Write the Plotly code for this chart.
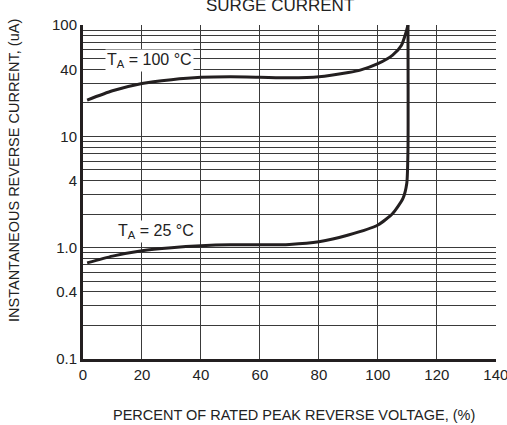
import plotly.graph_objects as go

# Data
x_100c = [1.4, 10, 20, 30, 40, 50, 60, 70, 80, 90, 94, 100, 105, 108, 109.6, 110.2]
y_100c = [21.2, 25.7, 29.9, 32.3, 33.9, 34.3, 34.0, 33.6, 34.3, 37.5, 39.4, 45.0, 53.7, 66.0, 87.0, 100.0]

x_25c = [1.4, 10, 20, 30, 40, 50, 60, 70, 80, 90, 100, 105, 108.5, 109.8, 110.2, 110.2]
y_25c = [0.73, 0.84, 0.94, 1.0, 1.04, 1.06, 1.06, 1.07, 1.13, 1.30, 1.60, 2.03, 2.77, 3.79, 7.5, 100.0]

x_ticks = [0, 20, 40, 60, 80, 100, 120, 140]
y_ticks = [0.1, 0.4, 1, 4, 10, 40, 100]
y_ticktext = ["0.1", "0.4", "1.0", "4", "10", "40", "100"]
y_minor = [m * d for d in (0.1, 1, 10) for m in (2, 3, 5, 6, 7, 8, 9)]

LINE = "#231f20"
GRID = "#3a3a3a"
FONT = "Liberation Sans, Arial, sans-serif"

fig = go.Figure()
fig.add_trace(go.Scatter(x=x_100c, y=y_100c, mode="lines",
                         line=dict(color=LINE, width=3, shape="spline", smoothing=0.6),
                         showlegend=False, hoverinfo="skip"))
fig.add_trace(go.Scatter(x=x_25c, y=y_25c, mode="lines",
                         line=dict(color=LINE, width=3, shape="spline", smoothing=0.6),
                         showlegend=False, hoverinfo="skip"))

fig.update_layout(
    width=507, height=425,
    margin=dict(l=83, r=11, t=25, b=66),
    plot_bgcolor="white", paper_bgcolor="white",
    font=dict(family=FONT, color="#222"),
    xaxis=dict(range=[0, 140.05], tickvals=x_ticks, ticktext=[str(v) for v in x_ticks],
               showgrid=True, gridcolor=GRID, gridwidth=1,
               showline=True, linecolor=LINE, linewidth=3,
               ticks="", zeroline=False, automargin=False, ticklabeloverflow="allow",
               tickfont=dict(size=15, color="#222")),
    yaxis=dict(type="log", range=[-1, 2.0005], tickvals=y_ticks, ticktext=y_ticktext,
               showgrid=True, gridcolor=GRID, gridwidth=1,
               minor=dict(tickvals=y_minor, showgrid=True, gridcolor=GRID, gridwidth=1, ticks=""),
               showline=True, linecolor=LINE, linewidth=3,
               ticks="", zeroline=False, automargin=False, ticklabeloverflow="allow",
               tickfont=dict(size=15, color="#222")),
)

fig.add_annotation(text="T<sub>A</sub> = 100 °C", x=22.4, y=1.686, xref="x", yref="y",
                   showarrow=False, bgcolor="white", font=dict(size=16, color="#222"))
fig.add_annotation(text="T<sub>A</sub> = 25 °C", x=24.6, y=0.149, xref="x", yref="y",
                   showarrow=False, bgcolor="white", font=dict(size=16, color="#222"))

fig.add_annotation(text="SURGE CURRENT", x=0.477, y=1.057, xref="paper", yref="paper",
                   xanchor="center", yanchor="middle",
                   showarrow=False, font=dict(size=17, color="#222"))
fig.add_annotation(text="INSTANTANEOUS REVERSE CURRENT, (uA)", x=-0.167, y=0.563,
                   xref="paper", yref="paper", textangle=-90, showarrow=False,
                   xanchor="center", yanchor="middle",
                   font=dict(size=14.5, color="#222"))
fig.add_annotation(text="PERCENT OF RATED PEAK REVERSE VOLTAGE, (%)", x=0.511, y=-0.168,
                   xref="paper", yref="paper", showarrow=False,
                   xanchor="center", yanchor="middle",
                   font=dict(size=14.5, color="#222"))

fig.write_html("out.html", config={"displayModeBar": False},
               post_script="document.body.style.margin='0';")
